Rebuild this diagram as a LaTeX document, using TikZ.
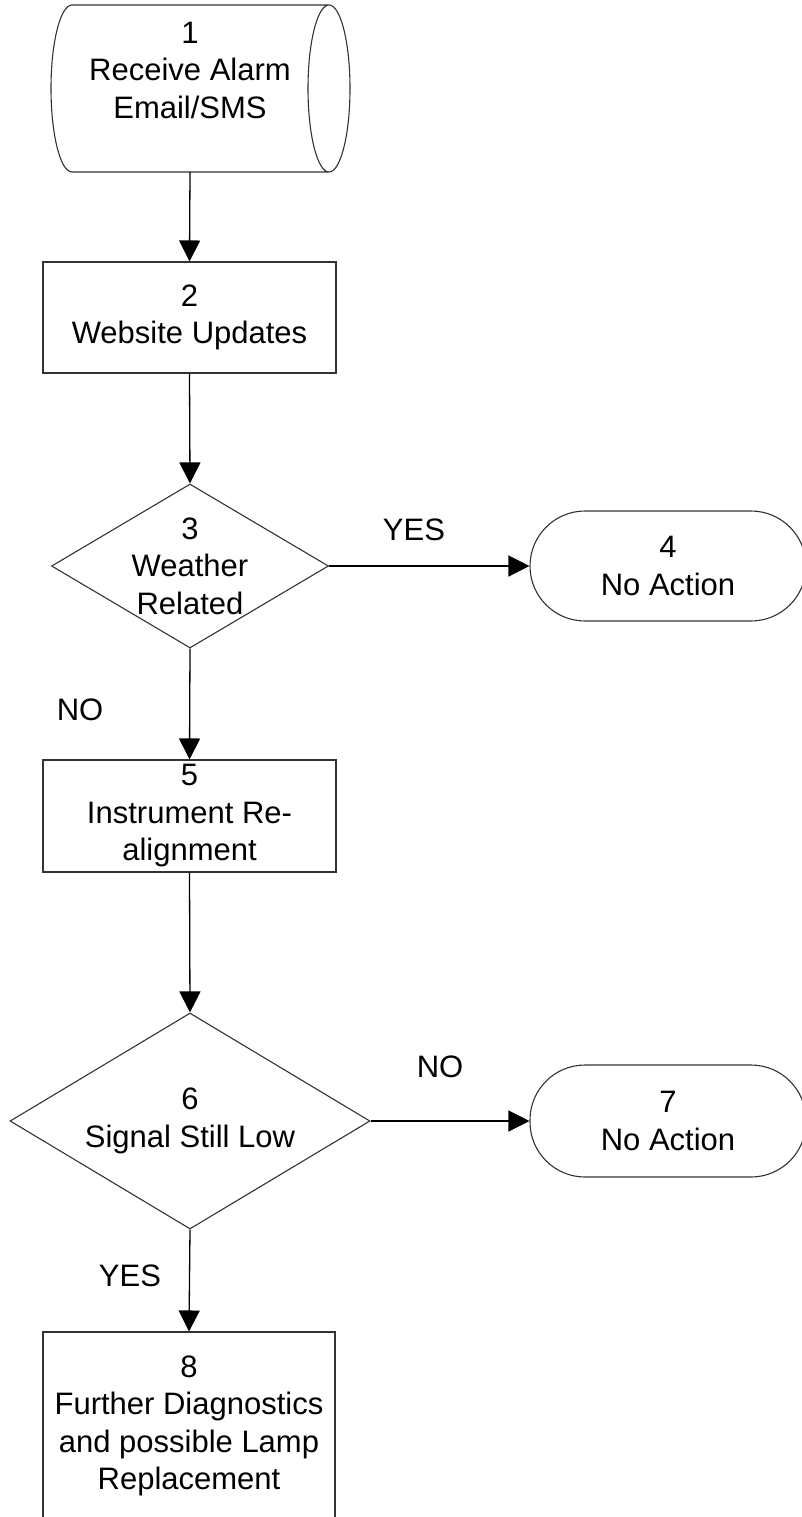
\documentclass[tikz,border=0pt]{standalone}
\usepackage{fontspec}
\setmainfont{Liberation Sans}
\usetikzlibrary{shapes.geometric,arrows.meta}
\begin{document}
\begin{tikzpicture}[x=1pt,y=-1pt,
  every node/.style={font=\fontsize{31}{37.5}\selectfont},
  shapeline/.style={draw=black!80, line width=1.1pt},
  procbox/.style={shapeline, minimum width=293pt, minimum height=111pt, inner sep=0pt, align=center},
  termbox/.style={shapeline, rounded corners=55pt, minimum width=276pt, minimum height=110pt, inner sep=0pt, align=center},
  decbox/.style={shapeline, shape=diamond, inner sep=0pt},
  txt/.style={align=center, inner sep=0pt},
  lbl/.style={inner sep=0pt},
  flow/.style={draw=black, line width=1.3pt, -{Triangle[length=21pt,width=21pt]}}
]
\useasboundingbox (0,0) rectangle (802,1517);
\fill[white] (0,0) rectangle (802,1517);

% 1 : horizontal cylinder
\draw[shapeline] (72,5) -- (329,5)
  (72,5) arc[start angle=90,end angle=270,x radius=21pt,y radius=83.5pt] -- (329,172)
  (329,88.5) ellipse[x radius=21pt,y radius=83.5pt];
\node[inner sep=0pt, minimum width=257pt, minimum height=167pt] (n1) at (190,88.5) {};
\node[txt] (t1) at (190,70) {1\\Receive Alarm\\Email/SMS};

% 2
\node[procbox] (n2) at (189.5,317.5) {2\\Website Updates};

% 3
\node[decbox, minimum width=277pt, minimum height=164pt] (d3) at (190,566) {};
\node[txt] (t3) at (190,566) {3\\Weather\\Related};

% 4
\node[termbox] (n4) at (668,566) {4\\No Action};

% 5
\node[procbox, minimum height=112pt] (n5) at (189.5,816) {5\\Instrument Re-\\alignment};

% 6
\node[decbox, minimum width=360pt, minimum height=216pt] (d6) at (190,1121) {};
\node[txt] (t6) at (190,1121) {6\\Signal Still Low};

% 7
\node[termbox, minimum height=112pt] (n7) at (668,1121) {7\\No Action};

% 8
\node[procbox, minimum width=292pt, minimum height=188pt] (n8) at (189,1426) {8\\Further Diagnostics\\and possible Lamp\\Replacement};

% labels
\node[lbl] (yes1) at (414,530) {YES};
\node[lbl] (no1) at (80,710) {NO};
\node[lbl] (no2) at (440,1067) {NO};
\node[lbl] (yes2) at (130,1276) {YES};

% connectors
\draw[flow] (n1.south) -- (n2.north);
\draw[flow] (n2.south) -- (d3.north);
\draw[flow] (d3.east) -- (n4.west);
\draw[flow] (d3.south) -- (n5.north);
\draw[flow] (n5.south) -- (d6.north);
\draw[flow] (d6.east) -- (n7.west);
\draw[flow] (d6.south) -- (n8.north);
\end{tikzpicture}
\end{document}
